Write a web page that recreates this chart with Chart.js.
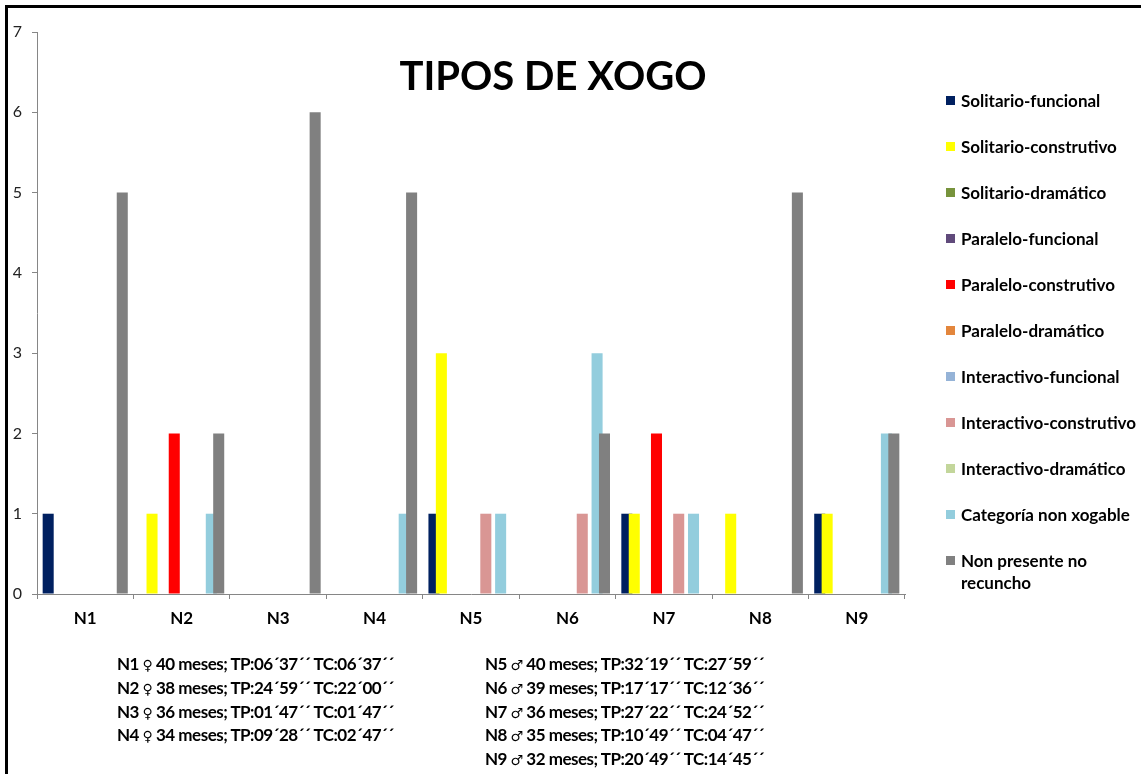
<!DOCTYPE html>
<html lang="gl">
<head>
<meta charset="UTF-8">
<script src="https://cdn.jsdelivr.net/npm/chart.js"></script>
<title>Tipos de xogo</title>
<style>
  body { margin: 0; background: #fff; }
  #wrap { position: relative; width: 1141px; height: 774px; overflow: hidden; font-family: Lato, "Open Sans", sans-serif; }
  #frame { position: absolute; left: 5px; top: 5px; width: 1200px; height: 800px; border-top: 3px solid #000; border-left: 3px solid #000; }
  #grafico { position: absolute; left: 0; top: 0; }
  #titulo { position: absolute; left: 553px; top: 75px; transform: translate(-50%, -50%); font-weight: 700; font-size: 40px; white-space: nowrap; color: #000; }
  #lenda { position: absolute; left: 946px; top: 0; font-weight: 700; font-size: 17px; color: #000; }
  .item { position: absolute; left: 0; white-space: nowrap; }
  .item i { position: absolute; left: 0; top: 6px; width: 9px; height: 9px; }
  .item span { position: absolute; left: 15px; top: 0; line-height: 22px; }
  .notas { position: absolute; top: 653px; font-weight: 700; font-size: 17px; line-height: 22.8px; letter-spacing: -0.5px; white-space: nowrap; color: #000; }
  .sx { font-family: "DejaVu Sans", sans-serif; font-weight: 400; font-size: 14px; }
</style>
</head>
<body>
<div id="wrap">
  <div id="frame"></div>
  <canvas id="grafico" width="1141" height="774"></canvas>
  <div id="titulo">TIPOS DE XOGO</div>
  <div id="lenda"></div>
  <div class="notas" id="notas-f" style="left:117px"></div>
  <div class="notas" id="notas-m" style="left:485px"></div>
</div>

<script>
const categorias = ['N1', 'N2', 'N3', 'N4', 'N5', 'N6', 'N7', 'N8', 'N9'];

const series = [
    'Solitario-funcional', 'Solitario-construtivo', 'Solitario-dramático',
    'Paralelo-funcional', 'Paralelo-construtivo', 'Paralelo-dramático',
    'Interactivo-funcional', 'Interactivo-construtivo', 'Interactivo-dramático',
    'Categoría non xogable', 'Non presente no recuncho'
];

const solitarioFuncional     = [1, 0, 0, 0, 1, 0, 1, 0, 1];
const solitarioConstrutivo   = [0, 1, 0, 0, 3, 0, 1, 1, 1];
const solitarioDramatico     = [0, 0, 0, 0, 0, 0, 0, 0, 0];
const paraleloFuncional      = [0, 0, 0, 0, 0, 0, 0, 0, 0];
const paraleloConstrutivo    = [0, 2, 0, 0, 0, 0, 2, 0, 0];
const paraleloDramatico      = [0, 0, 0, 0, 0, 0, 0, 0, 0];
const interactivoFuncional   = [0, 0, 0, 0, 0, 0, 0, 0, 0];
const interactivoConstrutivo = [0, 0, 0, 0, 1, 1, 1, 0, 0];
const interactivoDramatico   = [0, 0, 0, 0, 0, 0, 0, 0, 0];
const categoriaNonXogable    = [0, 1, 0, 1, 1, 3, 1, 0, 2];
const nonPresente            = [5, 2, 6, 5, 0, 2, 0, 5, 2];

const valores = [
    solitarioFuncional, solitarioConstrutivo, solitarioDramatico,
    paraleloFuncional, paraleloConstrutivo, paraleloDramatico,
    interactivoFuncional, interactivoConstrutivo, interactivoDramatico,
    categoriaNonXogable, nonPresente
];

const yMin = 0;
const yMax = 7;
const yPaso = 1;

const notasNenas = [
    ['N1', '♀', '40 meses; TP:06´37´´ TC:06´37´´'],
    ['N2', '♀', '38 meses; TP:24´59´´ TC:22´00´´'],
    ['N3', '♀', '36 meses; TP:01´47´´ TC:01´47´´'],
    ['N4', '♀', '34 meses; TP:09´28´´ TC:02´47´´']
];
const notasNenos = [
    ['N5', '♂', '40 meses; TP:32´19´´ TC:27´59´´'],
    ['N6', '♂', '39 meses; TP:17´17´´ TC:12´36´´'],
    ['N7', '♂', '36 meses; TP:27´22´´ TC:24´52´´'],
    ['N8', '♂', '35 meses; TP:10´49´´ TC:04´47´´'],
    ['N9', '♂', '32 meses; TP:20´49´´ TC:14´45´´']
];

const cores = [
    '#002060', '#FFFF00', '#77933C', '#604A7B', '#FF0000', '#E3863C',
    '#95B3D7', '#D99694', '#C3D69B', '#93CDDD', '#808080'
];

// lenda en HTML
const lenda = document.getElementById('lenda');
series.forEach((nome, i) => {
    const d = document.createElement('div');
    d.className = 'item';
    d.style.top = (90 + i * 46) + 'px';
    const txt = nome === 'Non presente no recuncho' ? 'Non presente no<br>recuncho' : nome;
    d.innerHTML = `<i style="background:${cores[i]}"></i><span>${txt}</span>`;
    lenda.appendChild(d);
});

function escribirNotas(id, notas) {
    document.getElementById(id).innerHTML = notas
        .map(n => `${n[0]} <span class="sx">${n[1]}</span> ${n[2]}`)
        .join('<br>');
}
escribirNotas('notas-f', notasNenas);
escribirNotas('notas-m', notasNenos);

// Excel pinta a serie seguinte por riba da anterior
const ordeExcel = {
    id: 'ordeExcel',
    beforeDatasetsDraw(chart) {
        chart.getSortedVisibleDatasetMetas().forEach(meta => chart._drawDataset(meta));
        return false;
    }
};

const eixo = '#868686';

new Chart(document.getElementById('grafico'), {
    type: 'bar',
    data: {
        labels: categorias,
        datasets: series.map((nome, i) => ({
            label: nome,
            data: valores[i],
            backgroundColor: cores[i],
            borderWidth: 0,
            categoryPercentage: 0.845,
            barPercentage: 1.49
        }))
    },
    options: {
        responsive: false,
        animation: false,
        devicePixelRatio: 1,
        layout: { padding: { top: 32, right: 236, left: 0, bottom: 0 } },
        plugins: {
            legend: { display: false },
            title: { display: false },
            tooltip: { enabled: false }
        },
        scales: {
            x: {
                afterFit: s => { s.height = 180; },
                grid: { offset: true, drawOnChartArea: false, drawTicks: true, tickLength: 5, color: eixo },
                border: { color: eixo, width: 1 },
                ticks: { color: '#000', padding: 9, font: { family: 'Lato', size: 17, weight: 'bold' } }
            },
            y: {
                min: yMin,
                max: yMax,
                afterFit: s => { s.width = 37; },
                grid: { drawOnChartArea: false, drawTicks: true, tickLength: 5, color: eixo },
                border: { color: eixo, width: 1 },
                ticks: { stepSize: yPaso, color: '#222', padding: 10, font: { family: 'Lato', size: 16 } }
            }
        }
    },
    plugins: [ordeExcel]
});
</script>
</body>
</html>
